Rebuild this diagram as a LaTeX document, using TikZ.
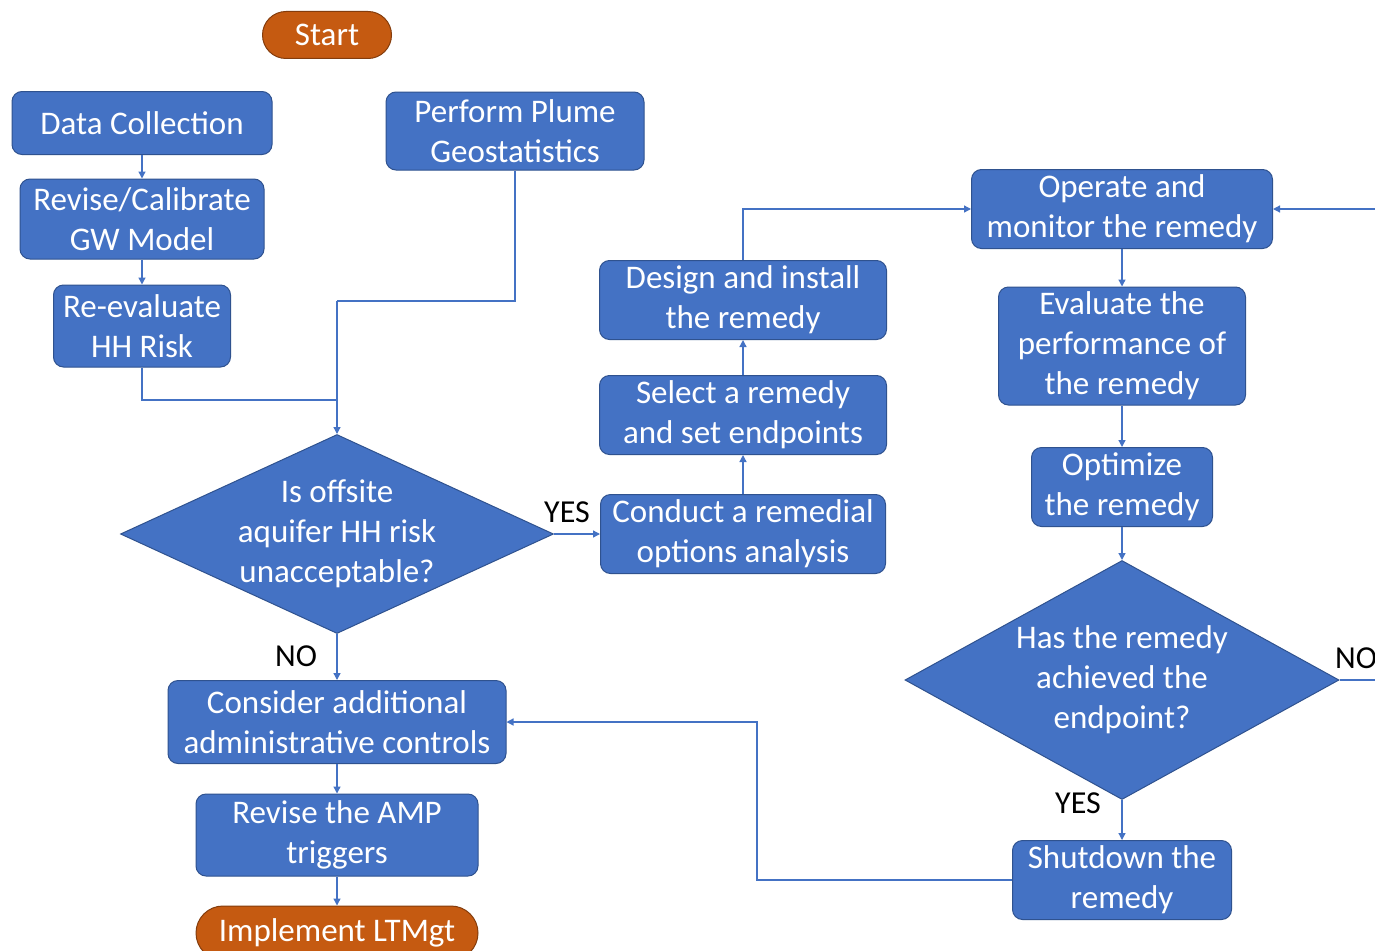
\documentclass[tikz,border=0pt]{standalone}
\usepackage{fontspec}
\setmainfont{Carlito}
\usetikzlibrary{shapes.geometric,shapes.misc,arrows.meta}
\definecolor{bfill}{HTML}{4472C4}
\definecolor{bline}{HTML}{2F528F}
\definecolor{ofill}{HTML}{C55A11}
\definecolor{oline}{HTML}{843C0C}
\begin{document}
\begin{tikzpicture}[x=1pt,y=-1pt,
  box/.style={draw=bline,line width=1pt,fill=bfill,rounded corners=10pt,text=white,align=center,inner sep=0pt,font=\fontsize{33}{40}\selectfont},
  term/.style={draw=oline,line width=1pt,fill=ofill,rounded rectangle,text=white,align=center,inner sep=0pt,font=\fontsize{33}{40}\selectfont},
  dia/.style={draw=bline,line width=1pt,fill=bfill,diamond,inner sep=0pt},
  diatext/.style={text=white,align=center,inner sep=0pt,font=\fontsize{33}{40}\selectfont},
  lbl/.style={text=black,inner sep=0pt,font=\fontsize{32}{36}\selectfont},
  conn/.style={draw=bfill,line width=1.3pt,-{Triangle[length=7pt,width=7pt]}},
  plain/.style={draw=bfill,line width=1.3pt}]
\useasboundingbox (0,0) rectangle (1375,950);
\fill[white] (0,0) rectangle (1375,950);

\node[term,minimum width=129pt,minimum height=47pt] (start) at (327,35) {Start};
\node[box,minimum width=260pt,minimum height=63pt] (data) at (142,123) {Data Collection};
\node[box,minimum width=244pt,minimum height=80pt] (calib) at (142,219) {Revise/Calibrate\\GW Model};
\node[box,minimum width=177pt,minimum height=82pt] (reeval) at (142,326) {Re-evaluate\\HH Risk};
\node[box,minimum width=258pt,minimum height=78pt] (plume) at (515,131) {Perform Plume\\Geostatistics};
\node[dia,minimum width=433pt,minimum height=199pt] (d1) at (337,534) {};
\node[diatext] (d1t) at (d1.center) {Is offsite\\aquifer HH risk\\unacceptable?};
\node[box,minimum width=338pt,minimum height=83pt] (admin) at (337,722) {Consider additional\\administrative controls};
\node[box,minimum width=282pt,minimum height=82pt] (amp) at (337,835) {Revise the AMP\\triggers};
\node[term,minimum width=282pt,minimum height=54pt] (impl) at (337,933) {Implement LTMgt};
\node[box,minimum width=285pt,minimum height=79pt] (conduct) at (743,534) {Conduct a remedial\\options analysis};
\node[box,minimum width=287pt,minimum height=79pt] (select) at (743,415) {Select a remedy\\and set endpoints};
\node[box,minimum width=287pt,minimum height=79pt] (design) at (743,300) {Design and install\\the remedy};
\node[box,minimum width=301pt,minimum height=79pt] (operate) at (1122,209) {Operate and\\monitor the remedy};
\node[box,minimum width=247pt,minimum height=118pt] (evalp) at (1122,346) {Evaluate the\\performance of\\the remedy};
\node[box,minimum width=181pt,minimum height=79pt] (optim) at (1122,487) {Optimize\\the remedy};
\node[dia,minimum width=434pt,minimum height=239pt] (d2) at (1122,680) {};
\node[diatext] (d2t) at (d2.center) {Has the remedy\\achieved the\\endpoint?};
\node[box,minimum width=219pt,minimum height=79pt] (shut) at (1122,880) {Shutdown the\\remedy};

\node[lbl] (yes1) at (567,512) {YES};
\node[lbl] (no1) at (296,656) {NO};
\node[lbl] (yes2) at (1078,803) {YES};
\node[lbl] (no2) at (1356,658) {NO};

\coordinate (m1) at (337,400);
\coordinate (m2) at (337,301);
\coordinate (eR) at (1375,680);
\coordinate (eT) at (1375,209);
\coordinate (sx) at (757,880);

\draw[conn] (data) -- (calib);
\draw[conn] (calib) -- (reeval);
\draw[plain] (reeval.south) |- (m1);
\draw[plain] (plume.south) |- (m2);
\draw[conn] (m2) -- (d1.north);
\draw[conn] (d1.east) -- (conduct.west);
\draw[conn] (d1.south) -- (admin.north);
\draw[conn] (conduct) -- (select);
\draw[conn] (select) -- (design);
\draw[conn] (design.north) |- (operate.west);
\draw[conn] (operate) -- (evalp);
\draw[conn] (evalp) -- (optim);
\draw[conn] (optim) -- (d2.north);
\draw[conn] (d2.south) -- (shut.north);
\draw[plain] (d2.east) -- (eR);
\draw[conn] (eT) -- (operate.east);
\draw[conn] (shut.west) -- (sx) |- (admin.east);
\draw[conn] (admin) -- (amp);
\draw[conn] (amp) -- (impl);
\end{tikzpicture}
\end{document}
